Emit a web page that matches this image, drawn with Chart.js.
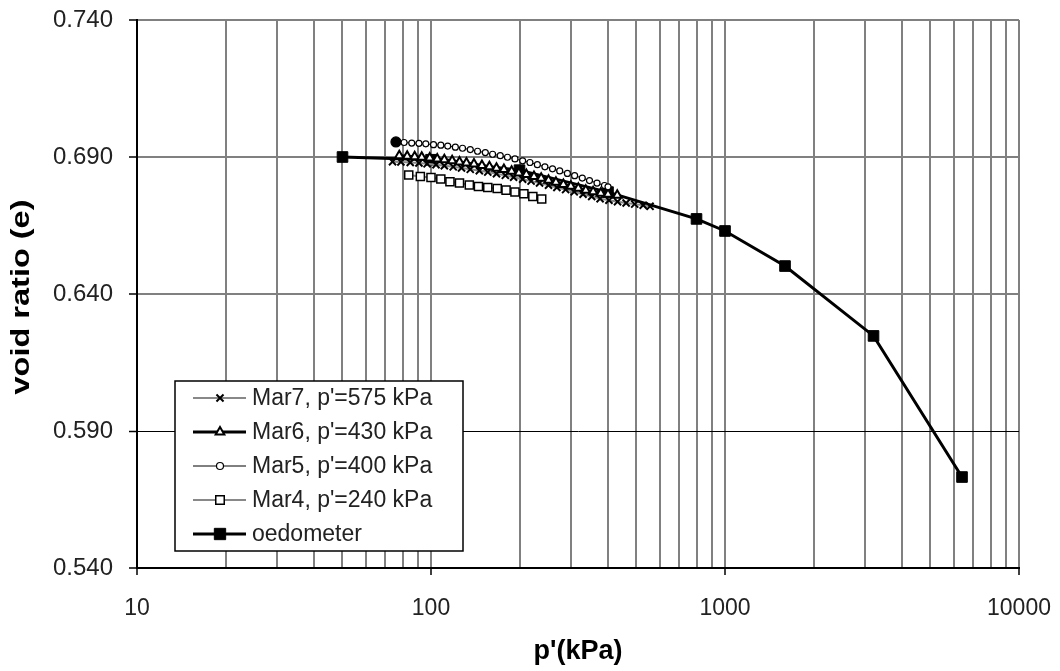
<!DOCTYPE html>
<html>
<head>
<meta charset="utf-8">
<title>void ratio vs p'</title>
<script src="https://cdn.jsdelivr.net/npm/chart.js@4/dist/chart.umd.min.js"></script>
<style>
  html, body { margin: 0; padding: 0; background: #fff; }
  #wrap { width: 1060px; height: 671px; }
</style>
</head>
<body>
<div id="wrap"><canvas id="voidChart" width="1060" height="671"></canvas></div>
<script>
// values: p' in kPa, e = void ratio
const mar7P = [74, 79, 85, 91, 97, 104, 111, 119, 127, 136, 146, 156, 167, 179, 191, 205, 219, 234, 251, 268, 287, 307, 329, 352, 376, 403, 431, 461, 493, 527, 556];
const mar7E = [0.6883, 0.6882, 0.6880, 0.6878, 0.6875, 0.6872, 0.6868, 0.6864, 0.6860, 0.6855, 0.6850, 0.6845, 0.6839, 0.6833, 0.6826, 0.6819, 0.6812, 0.6805, 0.6797, 0.6789, 0.6781, 0.6773, 0.6764, 0.6756, 0.6748, 0.6742, 0.6737, 0.6732, 0.6728, 0.6724, 0.6720];

const mar6P = [78, 83, 88, 93, 99, 105, 111, 118, 125, 132, 140, 149, 158, 167, 177, 188, 199, 211, 224, 237, 251, 266, 282, 299, 317, 336, 356, 378, 400, 430];
const mar6E = [0.6905, 0.6903, 0.6901, 0.6899, 0.6896, 0.6893, 0.6890, 0.6886, 0.6882, 0.6878, 0.6874, 0.6869, 0.6864, 0.6859, 0.6854, 0.6848, 0.6842, 0.6836, 0.6829, 0.6822, 0.6815, 0.6808, 0.6800, 0.6793, 0.6786, 0.6779, 0.6773, 0.6768, 0.6764, 0.6760];

const mar5P = [76, 81, 86, 91, 96, 102, 108, 114, 121, 128, 136, 144, 153, 162, 172, 182, 193, 205, 217, 230, 244, 259, 274, 291, 308, 327, 346, 367, 389, 400];
const mar5E = [0.6955, 0.6953, 0.6951, 0.6950, 0.6948, 0.6945, 0.6943, 0.6940, 0.6936, 0.6932, 0.6927, 0.6921, 0.6916, 0.6910, 0.6905, 0.6899, 0.6893, 0.6886, 0.6880, 0.6872, 0.6864, 0.6857, 0.6849, 0.6840, 0.6832, 0.6823, 0.6814, 0.6805, 0.6796, 0.6791];

const mar4P = [84, 92, 100, 108, 116, 125, 135, 145, 156, 168, 180, 193, 207, 222, 238];
const mar4E = [0.6834, 0.6829, 0.6825, 0.6820, 0.6810, 0.6805, 0.6798, 0.6792, 0.6789, 0.6785, 0.6779, 0.6772, 0.6766, 0.6756, 0.6747];

const oedoP = [50, 100, 200, 400, 800, 1000, 1600, 3200, 6400];
const oedoE = [0.6900, 0.6890, 0.6852, 0.6772, 0.6674, 0.6630, 0.6502, 0.6247, 0.5732];

const xGridVals = [10, 20, 30, 40, 50, 60, 70, 80, 90, 100, 200, 300, 400, 500, 600, 700, 800, 900, 1000, 2000, 3000, 4000, 5000, 6000, 7000, 8000, 9000, 10000];
const xLabelVals = [10, 100, 1000, 10000];
const yTickVals = [0.540, 0.590, 0.640, 0.690, 0.740];

function pairs(px, ey) {
  return px.map((p, i) => ({ x: p, y: ey[i] }));
}

Chart.defaults.font.family = "'Liberation Sans', Arial, sans-serif";
Chart.defaults.color = "#222";

// legend drawn as a framed box inside the plot, like the original
const boxLegend = {
  id: "boxLegend",
  afterDatasetsDraw(chart) {
    const ctx = chart.ctx;
    ctx.save();
    ctx.fillStyle = "#fff";
    ctx.fillRect(175, 381, 288, 170);
    ctx.strokeStyle = "#000";
    ctx.lineWidth = 1.5;
    ctx.strokeRect(175, 381, 288, 170);
    chart.data.datasets.forEach((ds, k) => {
      const y = 398 + k * 34;
      ctx.strokeStyle = ds.borderColor;
      ctx.lineWidth = ds.borderWidth;
      ctx.beginPath();
      ctx.moveTo(193, y);
      ctx.lineTo(246, y);
      ctx.stroke();
      ctx.fillStyle = ds.legendFill;
      ctx.strokeStyle = "#000";
      ctx.lineWidth = ds.pointBorderWidth;
      Chart.helpers.drawPoint(ctx, { pointStyle: ds.pointStyle, radius: ds.legendRadius, borderWidth: ds.pointBorderWidth, rotation: 0 }, 220, y);
      ctx.fillStyle = "#222";
      ctx.font = "23px 'Liberation Sans', Arial, sans-serif";
      ctx.textBaseline = "middle";
      ctx.fillText(ds.label, 252, y + 1);
    });
    ctx.restore();
  }
};

// the y title in the original is stretched along the axis
const yTitle = {
  id: "yTitle",
  afterDraw(chart) {
    const ctx = chart.ctx;
    ctx.save();
    ctx.translate(22, 297);
    ctx.rotate(-Math.PI / 2);
    ctx.scale(1.3, 1);
    ctx.fillStyle = "#000";
    ctx.font = "bold 25px 'Liberation Sans', Arial, sans-serif";
    ctx.textAlign = "center";
    ctx.textBaseline = "middle";
    ctx.fillText("void ratio (e)", 0, 0);
    ctx.restore();
  }
};

new Chart(document.getElementById("voidChart"), {
  type: "line",
  data: {
    datasets: [
      {
        label: "Mar7, p'=575 kPa",
        data: pairs(mar7P, mar7E),
        borderColor: "#888",
        borderWidth: 2,
        pointStyle: "crossRot",
        pointRadius: 5,
        pointBorderColor: "#000",
        pointBorderWidth: 2,
        legendFill: "#000",
        legendRadius: 5,
        order: 3
      },
      {
        label: "Mar6, p'=430 kPa",
        data: pairs(mar6P, mar6E),
        borderColor: "#000",
        borderWidth: 3,
        pointStyle: "triangle",
        pointRadius: 5,
        pointBackgroundColor: "#fff",
        pointBorderColor: "#000",
        pointBorderWidth: 2,
        legendFill: "#fff",
        legendRadius: 5,
        order: 2
      },
      {
        label: "Mar5, p'=400 kPa",
        data: pairs(mar5P, mar5E),
        borderColor: "#000",
        borderWidth: 1,
        pointStyle: "circle",
        pointRadius: c => c.dataIndex === 0 ? 5 : 3,
        pointBackgroundColor: c => c.dataIndex === 0 ? "#000" : "#fff",
        pointBorderColor: "#000",
        pointBorderWidth: 1.2,
        legendFill: "#fff",
        legendRadius: 3.5,
        order: 0
      },
      {
        label: "Mar4, p'=240 kPa",
        data: pairs(mar4P, mar4E),
        borderColor: "#888",
        borderWidth: 2,
        pointStyle: "rect",
        pointRadius: 5.7,
        pointBackgroundColor: "#fff",
        pointBorderColor: "#000",
        pointBorderWidth: 1.5,
        legendFill: "#fff",
        legendRadius: 6,
        order: 4
      },
      {
        label: "oedometer",
        data: pairs(oedoP, oedoE),
        borderColor: "#000",
        borderWidth: 3,
        pointStyle: "rect",
        pointRadius: 7.5,
        pointBackgroundColor: "#000",
        pointBorderColor: "#000",
        pointBorderWidth: 1,
        legendFill: "#000",
        legendRadius: 8,
        order: 5
      }
    ]
  },
  options: {
    responsive: false,
    animation: false,
    events: [],
    layout: { padding: { top: 20, right: 41, left: 0, bottom: 0 } },
    elements: { line: { tension: 0 } },
    plugins: { legend: { display: false }, tooltip: { enabled: false } },
    scales: {
      x: {
        type: "logarithmic",
        min: 10,
        max: 10000,
        afterBuildTicks: s => { s.ticks = xGridVals.map(v => ({ value: v })); },
        afterFit: s => { s.height = 103; s.paddingLeft = 0; s.paddingRight = 0; },
        ticks: {
          autoSkip: false,
          maxRotation: 0,
          padding: 20,
          color: "#222",
          font: { size: 23 },
          callback: v => xLabelVals.includes(v) ? String(v) : ""
        },
        grid: {
          color: "#808080",
          lineWidth: 2,
          tickLength: 7,
          tickWidth: 1.5,
          tickColor: c => xLabelVals.includes(c.tick.value) ? "#000" : "rgba(0,0,0,0)"
        },
        border: { color: "#000", width: 2 },
        title: {
          display: true,
          text: "p'(kPa)",
          color: "#000",
          font: { size: 27, weight: "bold" },
          padding: { top: 0, bottom: 3 }
        }
      },
      y: {
        min: 0.54,
        max: 0.74,
        afterBuildTicks: s => { s.ticks = yTickVals.map(v => ({ value: v })); },
        afterFit: s => { s.width = 137; s.paddingTop = 0; s.paddingBottom = 0; },
        ticks: {
          padding: 16,
          color: "#222",
          font: { size: 24 },
          callback: v => v.toFixed(3)
        },
        grid: {
          color: c => Math.abs(c.tick.value - 0.59) < 1e-6 ? "#000" : "#808080",
          lineWidth: c => Math.abs(c.tick.value - 0.59) < 1e-6 ? 1 : 2,
          tickLength: 8,
          tickWidth: 1.5,
          tickColor: "#000"
        },
        border: { color: "#000", width: 2 }
      }
    }
  },
  plugins: [boxLegend, yTitle]
});
</script>
</body>
</html>
